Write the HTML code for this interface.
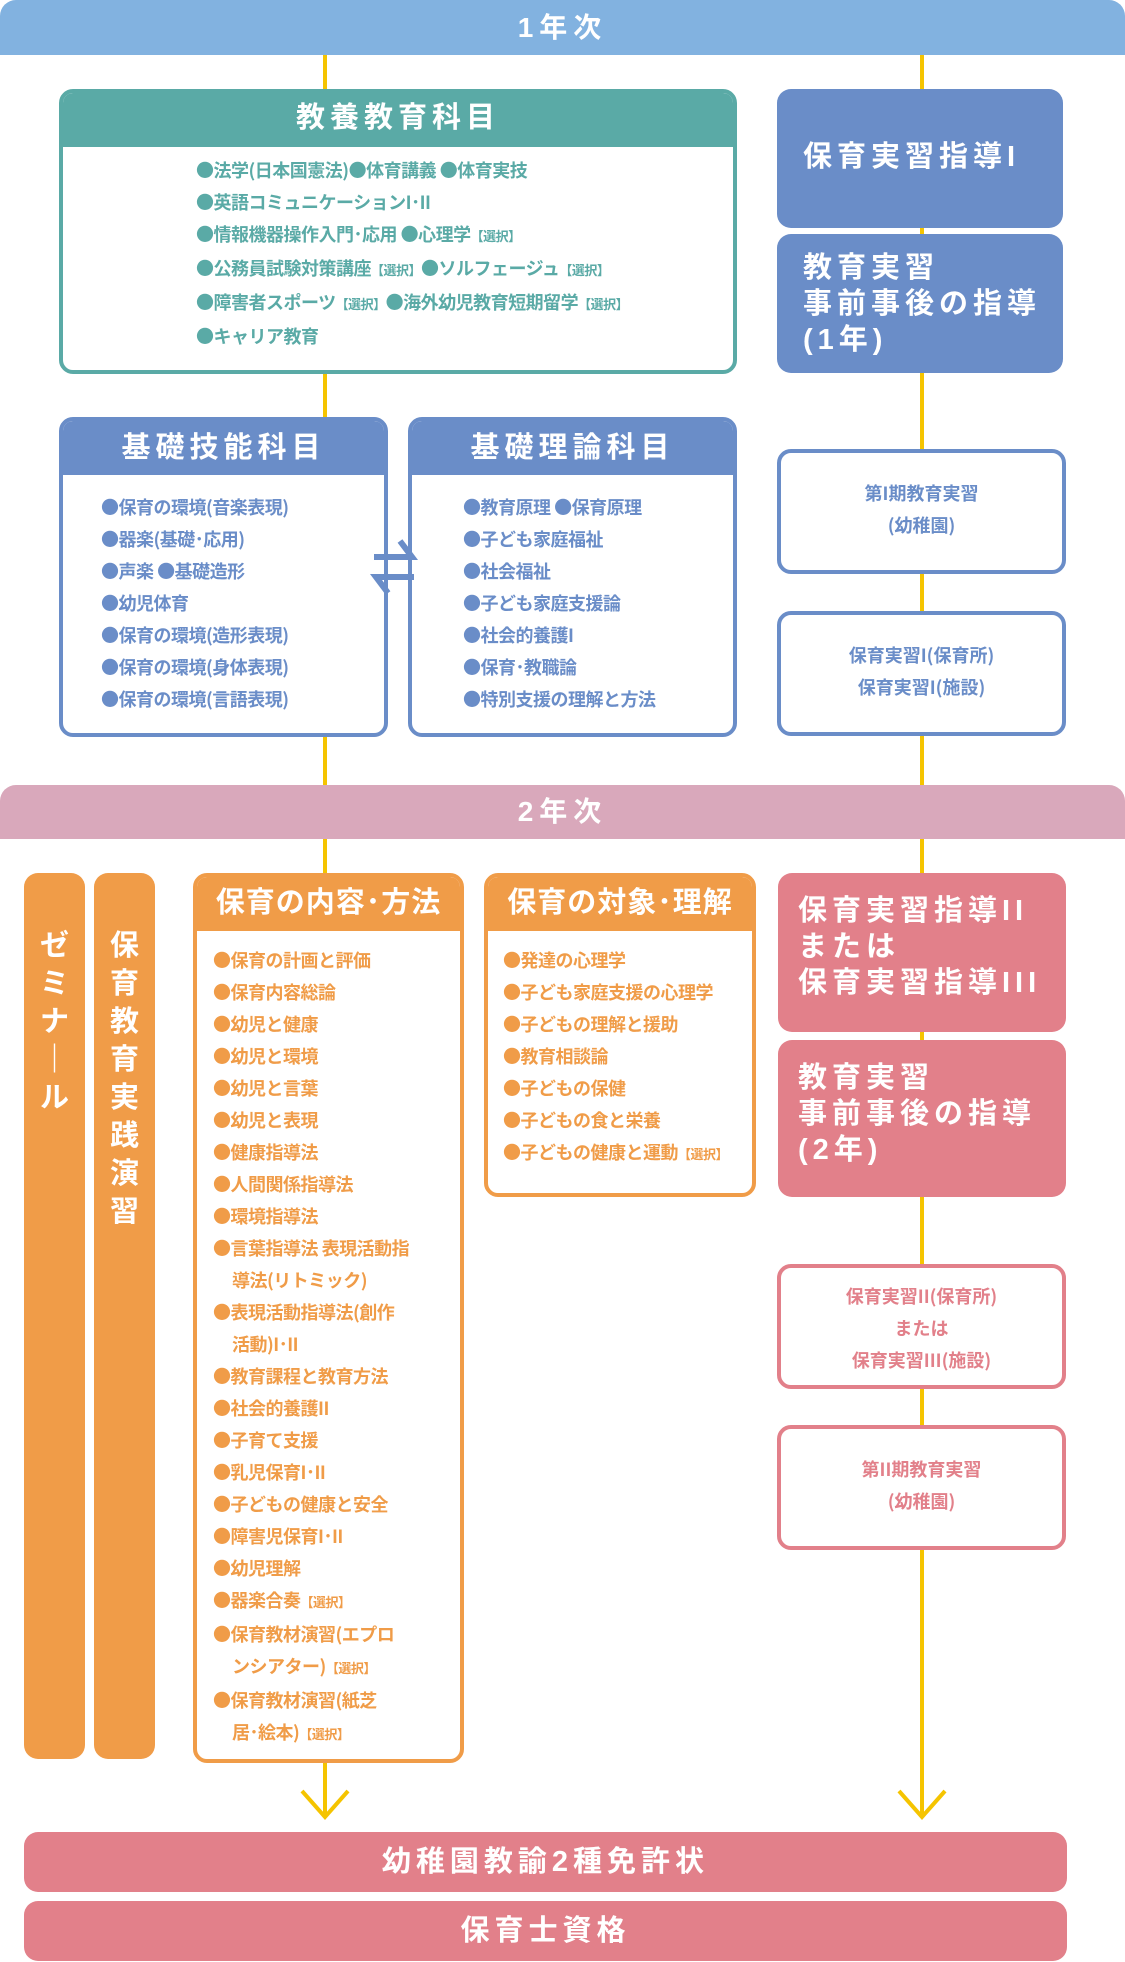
<!DOCTYPE html>
<html><head><meta charset="utf-8"><style>
*{margin:0;padding:0;box-sizing:border-box}
body{width:1125px;height:1962px;background:#fff;position:relative;overflow:hidden;font-family:"Liberation Sans","Noto Sans CJK JP",sans-serif;font-weight:bold}
.a{position:absolute}
.vl{position:absolute;width:4px;background:#f5c400}
.bar{position:absolute;left:0;width:1125px;color:#fff;text-align:center;font-size:28px;letter-spacing:6px;border-radius:16px 16px 0 0}
.box{position:absolute;border:4px solid;border-radius:14px;background:#fff;overflow:hidden}
.hd{color:#fff;text-align:center;font-size:29px;letter-spacing:5px}
.ls{position:absolute;font-family:"Noto Sans CJK JP",sans-serif;font-size:18px;line-height:32px;letter-spacing:-0.5px;white-space:nowrap}
.ls small{font-size:13px}
.sol{position:absolute;border-radius:14px;color:#fff;font-size:29px;letter-spacing:5px;line-height:36px}
.wb{position:absolute;border:4px solid;border-radius:14px;background:#fff;text-align:center;font-size:18px;line-height:32px;font-family:"Noto Sans CJK JP",sans-serif}
.ind{padding-left:19px}
</style></head><body>
<div class="vl" style="left:323px;top:54px;height:1760px"></div>
<div class="vl" style="left:920px;top:54px;height:1760px"></div>

<div class="bar" style="top:0;height:55px;line-height:55px;background:#82b2e0">1年次</div>

<div class="box" style="left:59px;top:89px;width:678px;height:285px;border-color:#5aaaa6">
<div class="hd" style="background:#5aaaa6;height:54px;line-height:50px">教養教育科目</div></div>
<div class="ls" style="left:196px;top:154px;color:#5aaaa6">●法学(日本国憲法)●体育講義 ●体育実技<br>●英語コミュニケーションI･II<br>●情報機器操作入門･応用 ●心理学<small>【選択】</small><br>●公務員試験対策講座<small>【選択】</small>●ソルフェージュ<small>【選択】</small><br>●障害者スポーツ<small>【選択】</small>●海外幼児教育短期留学<small>【選択】</small><br>●キャリア教育</div>

<div class="sol" style="left:777px;top:89px;width:286px;height:139px;background:#6a8dc8;padding:50px 0 0 26px">保育実習指導I</div>
<div class="sol" style="left:777px;top:234px;width:286px;height:139px;background:#6a8dc8;padding:16px 0 0 26px">教育実習<br>事前事後の指導<br>(1年)</div>

<div class="box" style="left:59px;top:417px;width:329px;height:320px;border-color:#6a8dc8">
<div class="hd" style="background:#6a8dc8;height:54px;line-height:54px">基礎技能科目</div></div>
<div class="ls" style="left:101px;top:491px;color:#6a8dc8">●保育の環境(音楽表現)<br>●器楽(基礎･応用)<br>●声楽 ●基礎造形<br>●幼児体育<br>●保育の環境(造形表現)<br>●保育の環境(身体表現)<br>●保育の環境(言語表現)</div>

<div class="box" style="left:408px;top:417px;width:329px;height:320px;border-color:#6a8dc8">
<div class="hd" style="background:#6a8dc8;height:54px;line-height:54px">基礎理論科目</div></div>
<div class="ls" style="left:463px;top:491px;color:#6a8dc8">●教育原理 ●保育原理<br>●子ども家庭福祉<br>●社会福祉<br>●子ども家庭支援論<br>●社会的養護I<br>●保育･教職論<br>●特別支援の理解と方法</div>

<svg class="a" style="left:368px;top:535px" width="52" height="62"><g fill="none" stroke="#6a8dc8" stroke-width="6"><path d="M6 22 H44 L32 6"/><path d="M46 42 H8 L20 58"/></g></svg>

<div class="wb" style="left:777px;top:449px;width:289px;height:125px;border-color:#6a8dc8;color:#6a8dc8;padding-top:24px">第I期教育実習<br>(幼稚園)</div>
<div class="wb" style="left:777px;top:611px;width:289px;height:125px;border-color:#6a8dc8;color:#6a8dc8;padding-top:24px">保育実習I(保育所)<br>保育実習I(施設)</div>

<div class="bar" style="top:785px;height:54px;line-height:54px;background:#d9a8bb">2年次</div>

<div class="sol" style="left:24px;top:873px;width:61px;height:886px;background:#f09c48;text-align:center;padding-top:54px;line-height:38px;letter-spacing:0">ゼ<br>ミ<br>ナ<br>｜<br>ル</div>
<div class="sol" style="left:94px;top:873px;width:61px;height:886px;background:#f09c48;text-align:center;padding-top:54px;line-height:38px;letter-spacing:0">保<br>育<br>教<br>育<br>実<br>践<br>演<br>習</div>

<div class="box" style="left:193px;top:873px;width:271px;height:890px;border-color:#f09c48">
<div class="hd" style="background:#f09c48;height:54px;line-height:52px;letter-spacing:1px">保育の内容･方法</div></div>
<div class="ls" style="left:213px;top:944px;color:#f09c48">●保育の計画と評価<br>●保育内容総論<br>●幼児と健康<br>●幼児と環境<br>●幼児と言葉<br>●幼児と表現<br>●健康指導法<br>●人間関係指導法<br>●環境指導法<br>●言葉指導法 表現活動指<br><span class="ind">導法(リトミック)</span><br>●表現活動指導法(創作<br><span class="ind">活動)I･II</span><br>●教育課程と教育方法<br>●社会的養護II<br>●子育て支援<br>●乳児保育I･II<br>●子どもの健康と安全<br>●障害児保育I･II<br>●幼児理解<br>●器楽合奏<small>【選択】</small><br>●保育教材演習(エプロ<br><span class="ind">ンシアター)<small>【選択】</small></span><br>●保育教材演習(紙芝<br><span class="ind">居･絵本)<small>【選択】</small></span></div>

<div class="box" style="left:484px;top:873px;width:272px;height:324px;border-color:#f09c48">
<div class="hd" style="background:#f09c48;height:54px;line-height:52px;letter-spacing:1px">保育の対象･理解</div></div>
<div class="ls" style="left:503px;top:944px;color:#f09c48">●発達の心理学<br>●子ども家庭支援の心理学<br>●子どもの理解と援助<br>●教育相談論<br>●子どもの保健<br>●子どもの食と栄養<br>●子どもの健康と運動<small>【選択】</small></div>

<div class="sol" style="left:778px;top:873px;width:288px;height:159px;background:#e2808a;padding:20px 0 0 20px">保育実習指導II<br>または<br>保育実習指導III</div>
<div class="sol" style="left:778px;top:1040px;width:288px;height:157px;background:#e2808a;padding:20px 0 0 20px">教育実習<br>事前事後の指導<br>(2年)</div>

<div class="wb" style="left:777px;top:1264px;width:289px;height:125px;border-color:#e2808a;color:#e2808a;padding-top:12px">保育実習II(保育所)<br>または<br>保育実習III(施設)</div>
<div class="wb" style="left:777px;top:1425px;width:289px;height:125px;border-color:#e2808a;color:#e2808a;padding-top:24px">第II期教育実習<br>(幼稚園)</div>

<svg class="a" style="left:298px;top:1785px" width="54" height="36"><path d="M4 6 L27 32 L50 6" fill="none" stroke="#f5c400" stroke-width="4"/></svg>
<svg class="a" style="left:895px;top:1785px" width="54" height="36"><path d="M4 6 L27 32 L50 6" fill="none" stroke="#f5c400" stroke-width="4"/></svg>

<div class="sol" style="left:24px;top:1832px;width:1043px;height:60px;background:#e2808a;text-align:center;line-height:60px">幼稚園教諭2種免許状</div>
<div class="sol" style="left:24px;top:1901px;width:1043px;height:60px;background:#e2808a;text-align:center;line-height:60px">保育士資格</div>
</body></html>
